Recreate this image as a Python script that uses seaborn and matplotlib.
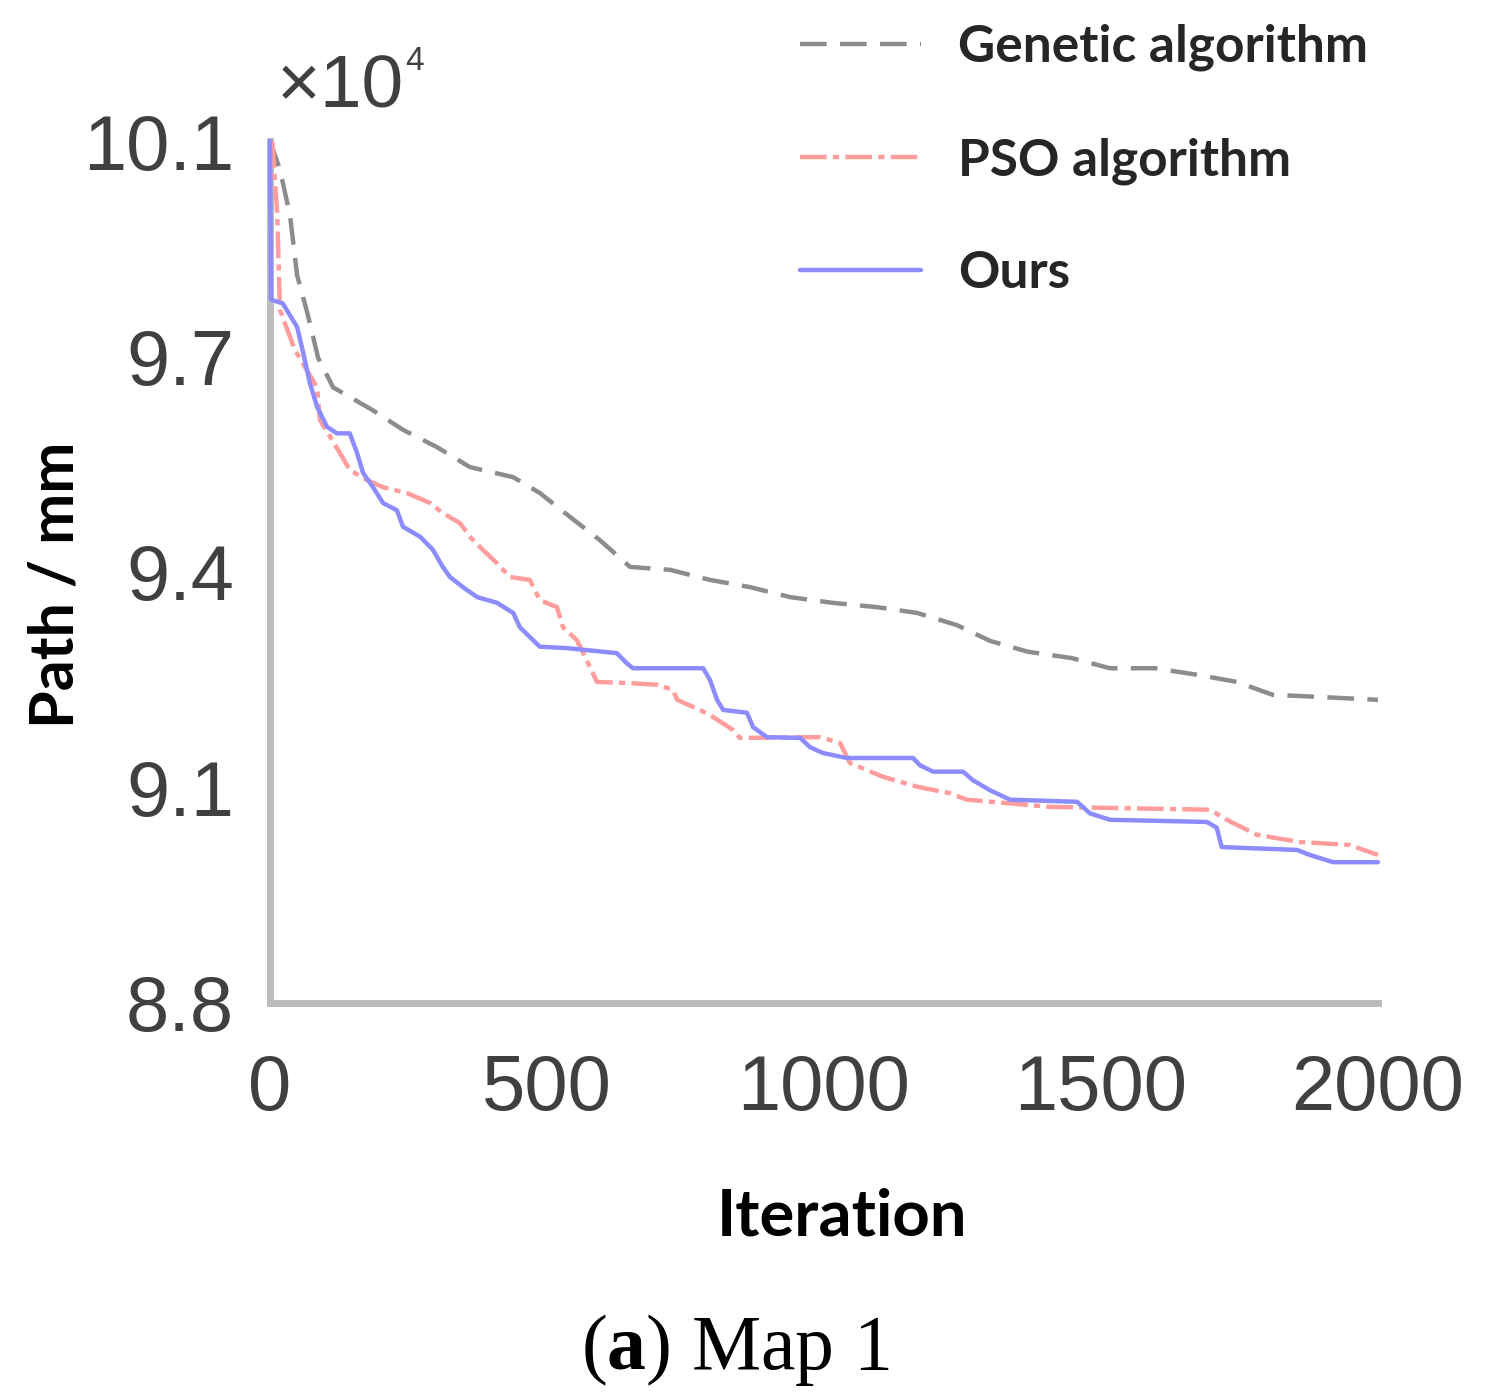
import numpy as np
import pandas as pd
import matplotlib
matplotlib.use('Agg')
import matplotlib.pyplot as plt
import seaborn as sns
from matplotlib.lines import Line2D

# values (path length in units of 1e4 mm)
ga_iter = [0, 18, 36, 49, 67, 87, 114, 186, 240, 301, 361, 439, 487, 541, 596, 650,
           722, 794, 866, 939, 1016, 1096, 1168, 1240, 1300, 1368, 1448, 1516, 1597,
           1673, 1745, 1810, 1895, 2000]
ga_path = [10.0, 9.96, 9.897, 9.813, 9.762, 9.698, 9.657, 9.625, 9.598, 9.574, 9.546,
           9.532, 9.510, 9.477, 9.444, 9.407, 9.403, 9.389, 9.379, 9.365, 9.357, 9.351,
           9.343, 9.326, 9.304, 9.289, 9.280, 9.266, 9.266, 9.257, 9.247, 9.229, 9.226,
           9.222]

pso_iter = [4, 13, 18, 45, 85, 90, 126, 144, 175, 204, 247, 289, 312, 343, 361, 384,
            410, 433, 469, 487, 518, 529, 554, 583, 590, 655, 699, 727, 735, 776, 800,
            836, 848, 993, 1029, 1047, 1106, 1168, 1227, 1258, 1408, 1697, 1727, 1782,
            1859, 1949, 2000]
pso_path = [10.0, 9.900, 9.765, 9.709, 9.657, 9.612, 9.566, 9.542, 9.528, 9.518, 9.510,
            9.496, 9.482, 9.468, 9.449, 9.431, 9.412, 9.393, 9.389, 9.361, 9.351, 9.323,
            9.305, 9.259, 9.247, 9.245, 9.243, 9.236, 9.222, 9.208, 9.198, 9.180, 9.169,
            9.170, 9.162, 9.134, 9.115, 9.101, 9.092, 9.083, 9.073, 9.069, 9.055, 9.034,
            9.024, 9.020, 9.006]

ours_iter = [0, 2, 23, 49, 60, 72, 85, 103, 121, 144, 157, 168, 186, 204, 229, 240, 271,
             294, 312, 325, 348, 374, 410, 439, 451, 475, 487, 536, 626, 644, 655, 782,
             794, 807, 818, 861, 872, 897, 957, 975, 998, 1041, 1161, 1173, 1197, 1251,
             1269, 1300, 1336, 1457, 1480, 1516, 1691, 1709, 1718, 1854, 1877, 1919, 2000]
ours_path = [10.0, 9.779, 9.774, 9.741, 9.705, 9.663, 9.630, 9.602, 9.593, 9.593, 9.566,
             9.538, 9.518, 9.496, 9.486, 9.463, 9.449, 9.431, 9.407, 9.393, 9.379, 9.365,
             9.357, 9.343, 9.323, 9.305, 9.296, 9.294, 9.287, 9.273, 9.266, 9.266, 9.250,
             9.222, 9.208, 9.204, 9.184, 9.170, 9.169, 9.156, 9.148, 9.141, 9.141, 9.131,
             9.122, 9.122, 9.110, 9.096, 9.083, 9.080, 9.064, 9.055, 9.052, 9.044, 9.017,
             9.013, 9.006, 8.996, 8.996]

labels = ['Genetic algorithm', 'PSO algorithm', 'Ours']
x_ticks = [0, 500, 1000, 1500, 2000]
y_ticks = [8.8, 9.1, 9.4, 9.7, 10.0]
y_ticklabels = ['8.8', '9.1', '9.4', '9.7', '10.1']

df = pd.concat([
    pd.DataFrame({'iter': ga_iter, 'path': ga_path, 'method': labels[0]}),
    pd.DataFrame({'iter': pso_iter, 'path': pso_path, 'method': labels[1]}),
    pd.DataFrame({'iter': ours_iter, 'path': ours_path, 'method': labels[2]}),
])

sns.set_style('white')
plt.rcParams['mathtext.fontset'] = 'custom'
plt.rcParams['mathtext.rm'] = 'Liberation Serif'
plt.rcParams['mathtext.bf'] = 'Liberation Serif:bold'
tick_font = ['Liberation Sans', 'DejaVu Sans']
label_font = ['Lato', 'DejaVu Sans']

colors = {labels[0]: '#8c8c8c', labels[1]: '#ff9c9c', labels[2]: '#8c8cff'}
styles = {labels[0]: (6, 3), labels[1]: (6, 1.4, 1.4, 1.4), labels[2]: None}

fig = plt.figure(figsize=(14.9, 13.99), dpi=100)
ax = fig.add_axes([0.1812, 0.2831, 0.7436, 0.6161])

for m in labels:
    sub = df[df['method'] == m]
    sns.lineplot(data=sub, x='iter', y='path', ax=ax, color=colors[m], lw=3.2,
                 estimator=None, sort=False, legend=False, zorder=3)
    ax.lines[-1].set_clip_on(False)
    if styles[m] is not None:
        ax.lines[-1].set_dashes(styles[m])

ax.set_xlim(0, 2000)
ax.set_ylim(8.8, 10.0)
ax.set_xticks(x_ticks)
ax.set_xticklabels([str(t) for t in x_ticks], family=tick_font, fontsize=56, color='#404040')
ax.set_yticks(y_ticks)
ax.set_yticklabels(y_ticklabels, family=tick_font, fontsize=56, color='#404040')
ax.tick_params(axis='both', direction='in', length=5, width=2, color='#8a8a8a')
ax.tick_params(axis='x', pad=36)
ax.tick_params(axis='y', pad=26)

sns.despine(ax=ax)
for s in ['left', 'bottom']:
    ax.spines[s].set_color('#bcbcbc')
    ax.spines[s].set_linewidth(5)
ax.set_xlabel('')
ax.set_ylabel('')

fig.text(0.037, 0.582, 'Path / mm', rotation=90, ha='center', va='center',
         family=label_font, fontweight='bold', fontsize=44, color='black')
fig.text(0.565, 0.130, 'Iteration', ha='center', va='center',
         family=label_font, fontweight='bold', fontsize=47, color='black')
fig.text(0.186, 0.937, '\u00d710', ha='left', va='center', family=tick_font,
         fontsize=54, color='#404040')
fig.text(0.272, 0.956, '4', ha='left', va='center', family=tick_font,
         fontsize=24, color='#404040')
fig.text(0.4935, 0.035, r'($\mathbf{a}$) Map 1', ha='center', va='center',
         family=['Liberation Serif', 'DejaVu Serif'], fontsize=56, color='black')

handles = [Line2D([], [], color=colors[m], lw=3.2) for m in labels]
for h, m in zip(handles, labels):
    if styles[m] is not None:
        h.set_dashes(styles[m])
leg = fig.legend(handles, labels, loc='upper left', bbox_to_anchor=(0.537, 0.983),
                 frameon=False, handlelength=2.35, handletextpad=0.72, labelspacing=1.28,
                 borderpad=0, borderaxespad=0,
                 prop={'family': label_font, 'weight': 'bold', 'size': 37})

fig.savefig('out.png', dpi=100, facecolor='white')
